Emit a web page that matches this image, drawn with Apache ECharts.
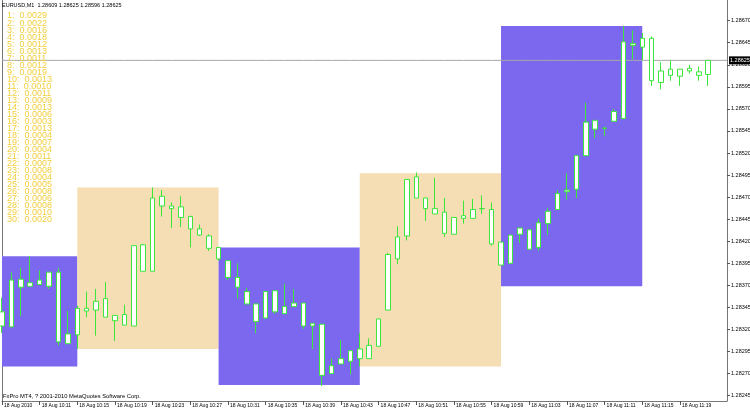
<!DOCTYPE html>
<html><head><meta charset="utf-8">
<script src="https://cdn.jsdelivr.net/npm/echarts@6/dist/echarts.min.js"></script>
<style>html,body{margin:0;padding:0;background:#fff}#c{width:750px;height:411px}</style>
</head><body><div id="c"></div>
<script>
const times = ['10:07','10:08','10:09','10:10','10:11','10:12','10:13','10:14','10:15','10:16','10:17','10:18','10:19','10:20','10:21','10:22','10:23','10:24','10:25','10:26','10:27','10:28','10:29','10:30','10:31','10:32','10:33','10:34','10:35','10:36','10:37','10:38','10:39','10:40','10:41','10:42','10:43','10:44','10:45','10:46','10:47','10:48','10:49','10:50','10:51','10:52','10:53','10:54','10:55','10:56','10:57','10:58','10:59','11:00','11:01','11:02','11:03','11:04','11:05','11:06','11:07','11:08','11:09','11:10','11:11','11:12','11:13','11:14','11:15','11:16','11:17','11:18','11:19','11:20','11:21','11:22','11:23','11:24'];
const opens  = [1.28340,1.28323,1.28377,1.28369,1.28371,1.28369,1.28385,1.28304,1.28314,1.28344,1.28342,1.28355,1.28336,1.28337,1.28324,1.28416,1.28386,1.28471,1.28460,1.28459,1.28448,1.28434,1.28426,1.28413,1.28398,1.28379,1.28363,1.28349,1.28333,1.28364,1.28338,1.28346,1.28350,1.28324,1.28326,1.28270,1.28281,1.28284,1.28298,1.28287,1.28301,1.28342,1.28400,1.28426,1.28493,1.28469,1.28457,1.28453,1.28428,1.28446,1.28446,1.28457,1.28456,1.28419,1.28395,1.28428,1.28433,1.28413,1.28440,1.28456,1.28476,1.28479,1.28517,1.28557,1.28548,1.28556,1.28559,1.28642,1.28640,1.28650,1.28600,1.28615,1.28607,1.28616,1.28612,1.28609];
const highs  = [1.28356,1.28385,1.28390,1.28403,1.28387,1.28385,1.28390,1.28341,1.28347,1.28363,1.28366,1.28374,1.28336,1.28348,1.28415,1.28417,1.28481,1.28478,1.28464,1.28471,1.28449,1.28439,1.28428,1.28413,1.28398,1.28395,1.28367,1.28349,1.28363,1.28364,1.28372,1.28366,1.28350,1.28327,1.28326,1.28287,1.28308,1.28296,1.28316,1.28310,1.28332,1.28407,1.28437,1.28490,1.28498,1.28469,1.28492,1.28469,1.28447,1.28466,1.28468,1.28472,1.28464,1.28419,1.28427,1.28435,1.28433,1.28446,1.28458,1.28478,1.28497,1.28517,1.28577,1.28557,1.28550,1.28570,1.28664,1.28659,1.28656,1.28652,1.28623,1.28625,1.28615,1.28620,1.28618,1.28625];
const lows   = [1.28316,1.28323,1.28335,1.28369,1.28371,1.28366,1.28302,1.28304,1.28298,1.28334,1.28313,1.28334,1.28307,1.28325,1.28324,1.28386,1.28386,1.28448,1.28435,1.28436,1.28413,1.28426,1.28409,1.28398,1.28376,1.28355,1.28349,1.28316,1.28333,1.28338,1.28338,1.28346,1.28321,1.28298,1.28256,1.28270,1.28281,1.28269,1.28278,1.28287,1.28301,1.28342,1.28394,1.28421,1.28469,1.28443,1.28451,1.28425,1.28428,1.28440,1.28446,1.28451,1.28415,1.28393,1.28395,1.28418,1.28411,1.28409,1.28427,1.28456,1.28467,1.28469,1.28517,1.28537,1.28539,1.28556,1.28559,1.28626,1.28625,1.28596,1.28592,1.28602,1.28596,1.28610,1.28602,1.28596];
const closes = [1.28324,1.28376,1.28368,1.28373,1.28376,1.28385,1.28306,1.28315,1.28344,1.28341,1.28352,1.28334,1.28330,1.28325,1.28415,1.28386,1.28469,1.28460,1.28457,1.28447,1.28434,1.28427,1.28412,1.28400,1.28379,1.28368,1.28349,1.28329,1.28363,1.28340,1.28346,1.28350,1.28324,1.28327,1.28268,1.28279,1.28287,1.28296,1.28287,1.28302,1.28332,1.28405,1.28425,1.28490,1.28469,1.28457,1.28451,1.28429,1.28447,1.28449,1.28456,1.28457,1.28417,1.28393,1.28427,1.28435,1.28411,1.28441,1.28454,1.28474,1.28478,1.28517,1.28555,1.28547,1.28548,1.28567,1.28646,1.28644,1.28650,1.28602,1.28613,1.28608,1.28615,1.28613,1.28608,1.28625];
const priceTicks = [1.28245,1.28270,1.28295,1.28320,1.28345,1.28370,1.28395,1.28420,1.28445,1.28470,1.28495,1.28520,1.28545,1.28570,1.28595,1.28620,1.28645,1.28670];
const boxStart = ['10:07','10:15','10:30','10:45','11:00'];
const boxEnd   = ['10:15','10:30','10:45','11:00','11:15'];
const boxHigh  = [1.28403,1.28481,1.28413,1.28497,1.28664];
const boxLow   = [1.28278,1.28298,1.28257,1.28278,1.28369];
const rangeValues = ['0.0029','0.0022','0.0016','0.0018','0.0012','0.0013','0.0011','0.0012','0.0019','0.0013','0.0010','0.0011','0.0009','0.0013','0.0006','0.0003','0.0013','0.0004','0.0007','0.0004','0.0011','0.0007','0.0008','0.0004','0.0005','0.0008','0.0006','0.0008','0.0010','0.0020'];
const bidPrice = 1.28625;
const headerText = 'EURUSD,M1  1.28609 1.28625 1.28596 1.28625';
const footerText = 'FxPro MT4, ? 2001-2010 MetaQuotes Software Corp.';
const dateLabel = '18 Aug 2010';
const dayPrefix = '18 Aug ';

const boxColors = ['#7B68EE','#F5DEB3'];
const smallFont = "'Liberation Sans',Arial,sans-serif";
const Y_MIN = 1.28239, Y_MAX = 1.286934;

const candleData = opens.map((o,i)=>[o, closes[i], lows[i], highs[i]]);
const bidLine = times.map(()=>bidPrice);
const areas = boxStart.map((s,i)=>[
  {xAxis: s, yAxis: boxHigh[i], itemStyle:{color: boxColors[i%2], opacity:1}},
  {xAxis: boxEnd[i], yAxis: boxLow[i]}
]);
const labelShown = (i)=> i % 4 === 0 && i <= 72;

const chart = echarts.init(document.getElementById('c'), null, {renderer:'canvas'});
chart.setOption({
  animation:false,
  backgroundColor:'#ffffff',
  grid:{left:2, right:23, top:0, bottom:10, containLabel:false, outerBoundsMode:'none'},
  xAxis:{
    type:'category', data:times, boundaryGap:false,
    axisLine:{show:true, lineStyle:{color:'#777', width:1}},
    axisTick:{show:true, length:4, interval:labelShown, lineStyle:{color:'#555'}},
    axisLabel:{interval:labelShown, align:'left', margin:2, padding:[0,0,0,2],
      fontSize:5, fontFamily:smallFont, color:'#000',
      formatter:(v,i)=> i===0 ? dateLabel : dayPrefix + v},
    splitLine:{show:false}
  },
  yAxis:[{
    type:'value', position:'right', min:Y_MIN, max:Y_MAX, scale:true,
    axisLine:{show:true, lineStyle:{color:'#777', width:1}},
    axisTick:{show:true, length:3, customValues:priceTicks, lineStyle:{color:'#555'}},
    axisLabel:{customValues:priceTicks, margin:4, fontSize:5.5, fontFamily:smallFont, color:'#000',
      formatter:(v)=>v.toFixed(5)},
    splitLine:{show:false}
  },{
    type:'value', position:'left', min:Y_MIN, max:Y_MAX, scale:true,
    axisLine:{show:true, lineStyle:{color:'#777', width:1}},
    axisTick:{show:false}, axisLabel:{show:false}, splitLine:{show:false}
  }],
  series:[
    {type:'line', data:bidLine, z:1, silent:true, symbol:'none', showSymbol:false,
      lineStyle:{color:'#A9A9A9', width:1},
      endLabel:{show:true, distance:2, formatter:()=>bidPrice.toFixed(5),
        backgroundColor:'#000', color:'#fff', fontSize:5.5, fontFamily:smallFont, padding:[1,1,1,1]}},
    {type:'line', data:[], z:2, silent:true,
      markArea:{silent:true, animation:false, data:areas}},
    {type:'candlestick', z:3, data:candleData, barWidth:5,
      itemStyle:{color:'#ffffff', color0:'#ffffff', borderColor:'#3CE63C', borderColor0:'#3CE63C', borderWidth:1}}
  ],
  graphic:[
    {type:'text', left:2, top:2, z:10, style:{text:headerText, fontSize:5.5, fontFamily:smallFont, fill:'#000'}},
    {type:'text', left:7, top:11.5, z:10, style:{
      text: rangeValues.map((v,i)=>(i+1)+':  '+v).join('\n'),
      fontSize:9, lineHeight:7.02, fontFamily:"'Liberation Sans',Arial,sans-serif", fill:'#F2CE3E'}},
    {type:'text', left:3, top:393, z:10, style:{text:footerText, fontSize:5.8, fontFamily:smallFont, fill:'#000'}}
  ]
});
</script></body></html>
